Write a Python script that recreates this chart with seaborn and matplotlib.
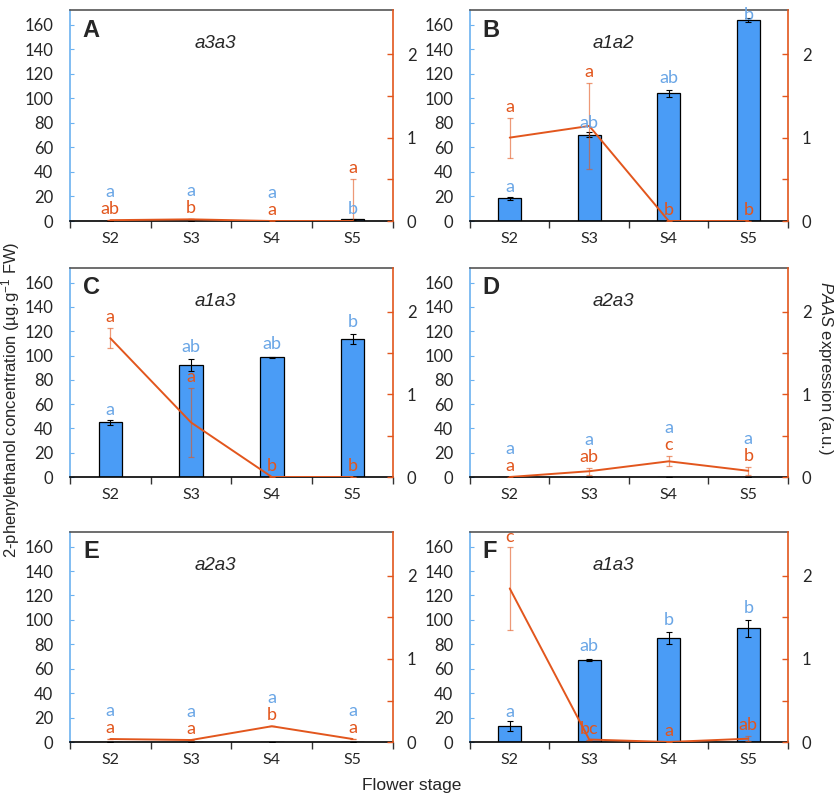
import numpy as np
import matplotlib
matplotlib.use("Agg")
import matplotlib.pyplot as plt
import seaborn as sns

# flower stages (x categories)
stages = ["S2", "S3", "S4", "S5"]

# panel A  a3a3
a_bar = [0.0, 0.0, 0.0, 1.5]
a_bar_err = [0.0, 0.0, 0.0, 0.3]
a_line = [0.01, 0.02, 0.0, 0.0]
a_line_err = [0.0, 0.0, 0.0, 0.5]
a_bar_let = ["a", "a", "a", "b"]
a_line_let = ["ab", "b", "a", "a"]

# panel B  a1a2
b_bar = [18.5, 70.2, 104.0, 163.8]
b_bar_err = [1.2, 2.0, 3.0, 1.5]
b_line = [1.0, 1.14, 0.0, 0.0]
b_line_err = [0.24, 0.52, 0.0, 0.0]
b_bar_let = ["a", "ab", "ab", "b"]
b_line_let = ["a", "a", "b", "b"]

# panel C  a1a3
c_bar = [45.0, 92.0, 98.5, 113.3]
c_bar_err = [2.0, 5.0, 0.6, 4.0]
c_line = [1.68, 0.66, 0.0, 0.0]
c_line_err = [0.12, 0.42, 0.0, 0.0]
c_bar_let = ["a", "ab", "ab", "b"]
c_line_let = ["a", "a", "b", "b"]

# panel D  a2a3
d_bar = [0.0, 0.0, 0.0, 0.0]
d_bar_err = [0.0, 0.0, 0.0, 0.0]
d_line = [0.0, 0.07, 0.19, 0.075]
d_line_err = [0.0, 0.04, 0.06, 0.05]
d_bar_let = ["a", "a", "a", "a"]
d_line_let = ["a", "ab", "c", "b"]

# panel E  a2a3
e_bar = [0.0, 0.0, 0.0, 0.3]
e_bar_err = [0.0, 0.0, 0.0, 0.0]
e_line = [0.036, 0.024, 0.19, 0.036]
e_line_err = [0.0, 0.0, 0.0, 0.0]
e_bar_let = ["a", "a", "a", "a"]
e_line_let = ["a", "a", "b", "a"]

# panel F  a1a3
f_bar = [12.8, 67.3, 85.0, 93.0]
f_bar_err = [4.0, 1.0, 5.0, 7.0]
f_line = [1.85, 0.03, 0.0, 0.04]
f_line_err = [0.5, 0.0, 0.0, 0.03]
f_bar_let = ["a", "ab", "b", "b"]
f_line_let = ["c", "bc", "a", "ab"]

panel_ids = ["A", "B", "C", "D", "E", "F"]
genotypes = ["a3a3", "a1a2", "a1a3", "a2a3", "a2a3", "a1a3"]

panels = [
    (a_bar, a_bar_err, a_line, a_line_err, a_bar_let, a_line_let),
    (b_bar, b_bar_err, b_line, b_line_err, b_bar_let, b_line_let),
    (c_bar, c_bar_err, c_line, c_line_err, c_bar_let, c_line_let),
    (d_bar, d_bar_err, d_line, d_line_err, d_bar_let, d_line_let),
    (e_bar, e_bar_err, e_line, e_line_err, e_bar_let, e_line_let),
    (f_bar, f_bar_err, f_line, f_line_err, f_bar_let, f_line_let),
]

sns.set_style("white")
plt.rcParams['font.family'] = ['Liberation Sans', 'DejaVu Sans']
plt.rcParams['mathtext.fontset'] = 'custom'
plt.rcParams['mathtext.rm'] = 'Liberation Sans'
plt.rcParams['mathtext.it'] = 'Liberation Sans:italic'

BAR_COL = '#4a9cf6'
BLUE_TXT = '#6aa6e6'
BLUE_SPINE = '#6cb2f0'
ORANGE = '#e2561d'
YMAX_L = 172
YMAX_R = 2.53
K = YMAX_L / YMAX_R  # right -> left units
TICK_FONT = ['Lato', 'DejaVu Sans']

fig = plt.figure(figsize=(8.4, 7.97), dpi=100)

# axes boxes (left, bottom, width, height) in figure fraction
col_x = [(0.0833, 0.3845), (0.5595, 0.3786)]
row_y = [(0.7227, 0.2647), (0.4015, 0.2622), (0.069, 0.2635)]

xpos = np.arange(len(stages))

for i, (bar, bar_err, line, line_err, bar_let, line_let) in enumerate(panels):
    cx, cw = col_x[i % 2]
    ry, rh = row_y[i // 2]
    ax = fig.add_axes([cx, ry, cw, rh])

    sns.barplot(x=stages, y=bar, ax=ax, width=0.29, color=BAR_COL, saturation=1,
                edgecolor='black', linewidth=0.9, errorbar=None)
    ax.errorbar(xpos, bar, yerr=bar_err, fmt='none', ecolor='black',
                elinewidth=0.8, capsize=2, capthick=0.8)
    ax.set_xlim(-0.5, 3.5)
    ax.set_ylim(0, YMAX_L)
    ax.set_yticks(np.arange(0, 161, 20))
    ax.set_xlabel("")
    ax.set_ylabel("")

    ax2 = ax.twinx()
    sns.lineplot(x=xpos, y=line, ax=ax2, color=ORANGE, linewidth=1.4)
    ax2.errorbar(xpos, line, yerr=line_err, fmt='none', ecolor=ORANGE,
                 elinewidth=0.9, capsize=2.5, capthick=0.9, alpha=0.6)
    ax2.set_ylim(0, YMAX_R)
    ax2.set_xlim(-0.5, 3.5)
    ax2.set_yticks([0, 0.5, 1, 1.5, 2])
    ax2.set_yticklabels(['0', '', '1', '', '2'])
    ax2.set_ylabel("")

    # spines
    for sp in ax2.spines.values():
        sp.set_visible(False)
    ax2.spines['right'].set_visible(True)
    ax2.spines['right'].set_color(ORANGE)
    ax2.spines['right'].set_linewidth(1.2)
    ax.spines['right'].set_visible(False)
    ax.spines['left'].set_color(BLUE_SPINE)
    ax.spines['left'].set_linewidth(1.2)
    ax.spines['top'].set_color('#555555')
    ax.spines['top'].set_linewidth(1.2)
    ax.spines['bottom'].set_color('black')
    ax.spines['bottom'].set_linewidth(1.2)

    # ticks
    ax.set_xticks(xpos)
    ax.set_xticklabels(stages)
    ax.set_xticks(np.arange(-0.5, 4, 1), minor=True)
    ax.tick_params(axis='x', which='major', length=0, pad=8, labelsize=11.5)
    ax.tick_params(axis='x', which='minor', length=5, width=1, color='#333333',
                   direction='out', bottom=True)
    ax.tick_params(axis='y', which='major', length=3, width=0.8, color=BLUE_SPINE,
                   direction='in', pad=12, labelsize=12, left=True)
    ax2.tick_params(axis='y', which='major', length=4, width=1, color=ORANGE,
                    direction='in', pad=10, labelsize=12, right=True)
    for lab in ax.get_xticklabels() + ax.get_yticklabels() + ax2.get_yticklabels():
        lab.set_family(TICK_FONT)

    # significance letters (drawn in left-axis units)
    for j in range(len(stages)):
        oy = (line[j] + line_err[j]) * K + 9
        top = bar[j] + bar_err[j]
        if top + 10 >= oy + 13:
            by = top + 10
        elif oy > 30:
            by = top + 8
        else:
            by = oy + 14
        oy = min(oy, 168)
        by = min(by, 168)
        ax2.text(xpos[j], oy, line_let[j], color=ORANGE, ha='center', va='center',
                 fontsize=13, family=TICK_FONT, clip_on=False, zorder=5,
                 transform=ax.transData)
        ax2.text(xpos[j], by, bar_let[j], color=BLUE_TXT, ha='center', va='center',
                 fontsize=13, family=TICK_FONT, clip_on=False, zorder=5,
                 transform=ax.transData)

    ax.text(0.04, 0.905, panel_ids[i], transform=ax.transAxes, fontsize=17,
            fontweight='bold', ha='left', va='center')
    ax.text(0.45, 0.84, genotypes[i], transform=ax.transAxes, fontsize=13.5,
            style='italic', ha='center', va='center')

fig.text(0.012, 0.498, "2-phenylethanol concentration (µg.g$^{-1}$ FW)",
         rotation=90, ha='center', va='center', fontsize=12)
fig.text(0.983, 0.538, r"$\it{PAAS}$ expression (a.u.)",
         rotation=270, ha='center', va='center', fontsize=12)
fig.text(0.49, 0.015, "Flower stage", ha='center', va='center', fontsize=12.5)

fig.savefig("out.png", dpi=100)
